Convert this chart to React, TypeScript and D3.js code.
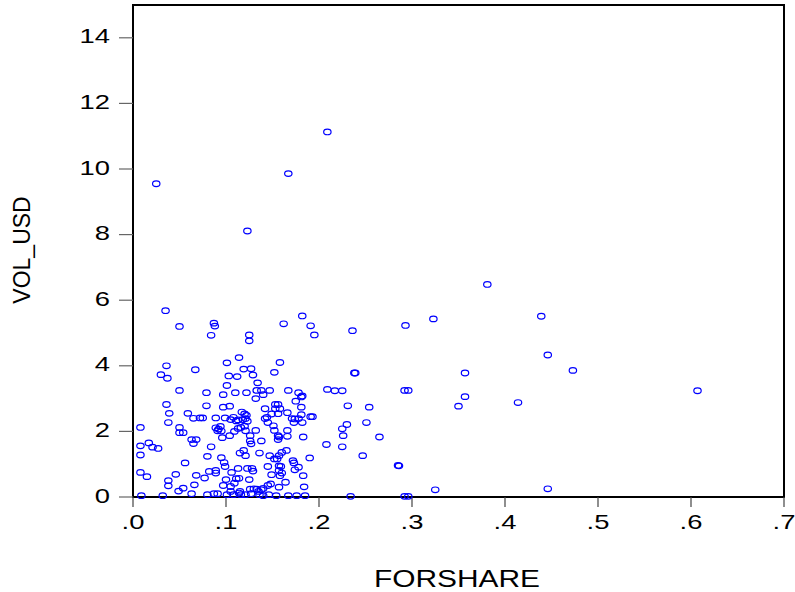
import React from 'react';
import * as d3 from 'd3';

// FORSHARE / VOL_USD pairs
const forshare = [
  0.025, 0.209, 0.167, 0.123, 0.035, 0.050, 0.087, 0.088, 0.084, 0.125, 0.125, 0.162, 0.182, 0.191, 0.195,
  0.381, 0.439, 0.323, 0.293, 0.236, 0.446, 0.473, 0.238, 0.239, 0.357, 0.209, 0.217, 0.225, 0.292, 0.296,
  0.357, 0.350, 0.414, 0.231, 0.254, 0.230, 0.225, 0.251, 0.226, 0.208, 0.225, 0.265, 0.247, 0.286, 0.285,
  0.325, 0.446, 0.234, 0.292, 0.296, 0.607, 0.036, 0.030, 0.037, 0.067, 0.101, 0.114, 0.158, 0.103, 0.112,
  0.119, 0.127, 0.129, 0.152, 0.134, 0.101, 0.050, 0.079, 0.097, 0.110, 0.122, 0.132, 0.133, 0.138, 0.140,
  0.147, 0.167, 0.178, 0.182, 0.181, 0.175, 0.036, 0.039, 0.038, 0.079, 0.059, 0.065, 0.072, 0.075, 0.097,
  0.104, 0.117, 0.120, 0.122, 0.089, 0.099, 0.108, 0.113, 0.118, 0.142, 0.144, 0.149, 0.153, 0.156, 0.158,
  0.153, 0.156, 0.166, 0.171, 0.173, 0.182, 0.181, 0.181, 0.191, 0.193, 0.178, 0.008, 0.050, 0.050, 0.054,
  0.063, 0.068, 0.065, 0.084, 0.089, 0.092, 0.094, 0.095, 0.091, 0.096, 0.104, 0.111, 0.121, 0.123, 0.120,
  0.113, 0.116, 0.109, 0.121, 0.126, 0.126, 0.127, 0.119, 0.115, 0.121, 0.132, 0.138, 0.136, 0.142, 0.145,
  0.151, 0.152, 0.156, 0.157, 0.156, 0.166, 0.166, 0.165, 0.160, 0.157, 0.155, 0.147, 0.152, 0.183, 0.172,
  0.173, 0.178, 0.174, 0.190, 0.183, 0.184, 0.008, 0.017, 0.021, 0.027, 0.008, 0.008, 0.015, 0.009, 0.032,
  0.038, 0.038, 0.046, 0.049, 0.054, 0.056, 0.063, 0.066, 0.068, 0.077, 0.080, 0.082, 0.089, 0.089, 0.080,
  0.087, 0.091, 0.095, 0.098, 0.099, 0.100, 0.097, 0.106, 0.113, 0.114, 0.111, 0.123, 0.128, 0.129, 0.125,
  0.109, 0.105, 0.105, 0.101, 0.108, 0.114, 0.116, 0.121, 0.127, 0.130, 0.133, 0.138, 0.140, 0.145, 0.136,
  0.140, 0.146, 0.148, 0.149, 0.145, 0.157, 0.159, 0.157, 0.160, 0.158, 0.157, 0.164, 0.154, 0.167, 0.176,
  0.185, 0.115, 0.126, 0.135, 0.174, 0.105,
];

const volUsd = [
  9.55, 11.13, 9.86, 8.11, 5.68, 5.20, 5.30, 5.21, 4.93, 4.94, 4.76, 5.28, 5.52, 5.22, 4.94,
  6.48, 5.51, 5.43, 5.23, 5.07, 4.33, 3.86, 3.78, 3.78, 3.78, 3.28, 3.24, 3.24, 3.25, 3.25,
  3.06, 2.77, 2.88, 2.78, 2.74, 2.21, 2.08, 2.27, 1.87, 1.60, 1.53, 1.83, 1.26, 0.95, 0.96,
  0.22, 0.25, 0.02, 0.02, 0.02, 3.24, 4.00, 3.73, 3.62, 3.88, 4.09, 4.25, 4.10, 3.69, 3.67,
  3.90, 3.91, 3.72, 3.80, 3.48, 3.40, 3.25, 3.18, 3.12, 3.18, 3.18, 3.00, 3.25, 3.25, 3.12,
  3.25, 3.25, 3.18, 3.08, 3.05, 2.92, 2.82, 2.55, 2.27, 2.78, 2.55, 2.40, 2.41, 2.41, 2.74,
  2.77, 2.59, 2.53, 2.49, 2.41, 2.41, 2.43, 2.35, 2.36, 2.69, 2.43, 2.53, 2.82, 2.82, 2.69,
  2.69, 2.54, 2.57, 2.39, 2.27, 2.27, 2.74, 2.51, 2.45, 2.45, 2.39, 2.12, 2.12, 1.96, 1.96,
  1.75, 1.75, 1.63, 1.53, 2.11, 2.07, 2.15, 2.01, 2.02, 1.81, 1.87, 2.32, 2.39, 2.31, 2.16,
  2.09, 2.12, 2.00, 2.02, 1.87, 1.71, 1.62, 1.42, 1.34, 1.26, 2.03, 1.71, 1.34, 2.39, 2.27,
  2.17, 2.03, 1.87, 1.83, 1.75, 2.03, 1.85, 1.42, 1.36, 1.26, 1.16, 1.26, 1.16, 1.83, 1.11,
  1.04, 0.91, 0.83, 1.19, 0.65, 0.31, 1.56, 1.65, 1.52, 1.48, 1.28, 0.75, 0.62, 0.04, 0.04,
  0.50, 0.34, 0.69, 0.18, 0.27, 1.04, 0.10, 0.37, 0.66, 0.58, 1.24, 0.78, 0.81, 0.73, 0.07,
  0.10, 0.10, 1.20, 1.05, 0.93, 0.53, 0.35, 0.75, 0.87, 0.57, 0.56, 0.87, 0.87, 0.79, 0.53,
  0.42, 0.32, 0.17, 0.07, 0.07, 0.12, 0.07, 0.07, 0.10, 0.25, 0.24, 0.22, 0.26, 0.35, 0.07,
  0.04, 0.07, 0.40, 0.68, 0.93, 0.95, 0.93, 0.81, 0.73, 0.65, 0.30, 0.45, 0.04, 0.04, 0.04,
  0.04, 0.17, 0.24, 0.17, 2.38, 2.36,
];

const xTicks = [0, 0.1, 0.2, 0.3, 0.4, 0.5, 0.6, 0.7];
const yTicks = [0, 2, 4, 6, 8, 10, 12, 14];

const W = 795;
const H = 592;
const left = 133, right = 784, top = 5, bottom = 497;
const font = 'Liberation Sans, Arial, sans-serif';
const stretch = 1.37; // the reference draws its labels horizontally widened

export default function App() {
  const x = d3.scaleLinear().domain([0, 0.7]).range([left, right]);
  const y = d3.scaleLinear().domain([0, 15]).range([bottom, top]);
  const fmtX = (v: number) => d3.format('.1f')(v).replace(/^0/, '');

  return (
    <svg width={W} height={H} style={{ position: 'absolute', left: 0, top: 0, background: '#fff' }}>
      <rect x={left} y={top} width={right - left} height={bottom - top} fill="none" stroke="#000" strokeWidth={2} />

      {yTicks.map(t => (
        <g key={'y' + t}>
          <line x1={left - 14} x2={left} y1={y(t)} y2={y(t)} stroke="#666" strokeWidth={1.2} />
          <text transform={`translate(110,${y(t) + 5.5}) scale(${stretch},1)`} textAnchor="end"
            fontFamily={font} fontSize={20}>{t}</text>
        </g>
      ))}

      {xTicks.map(t => (
        <g key={'x' + t}>
          <line x1={x(t)} x2={x(t)} y1={bottom} y2={bottom + 10} stroke="#444" strokeWidth={1.2} />
          <text transform={`translate(${x(t)},529) scale(${stretch},1)`} textAnchor="middle"
            fontFamily={font} fontSize={20}>{fmtX(t)}</text>
        </g>
      ))}

      {forshare.map((v, i) => (
        <ellipse key={i} cx={x(v)} cy={y(volUsd[i])} rx={3.7} ry={2.8}
          fill="none" stroke="#0000ff" strokeWidth={1.2} />
      ))}

      <text transform="translate(457,587) scale(1.3,1)" textAnchor="middle" fontFamily={font} fontSize={23}>FORSHARE</text>
      <text transform="translate(30,250) rotate(-90)" textAnchor="middle" fontFamily={font} fontSize={23}>VOL_USD</text>
    </svg>
  );
}
